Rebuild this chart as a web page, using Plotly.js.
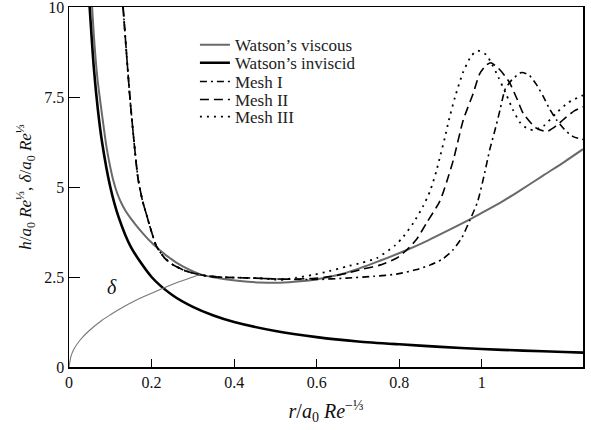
<!DOCTYPE html>
<html>
<head>
<meta charset="utf-8">
<script src="https://cdn.plot.ly/plotly-3.0.1.min.js"></script>
<style>html,body{margin:0;padding:0;background:#fff;}#chart{width:591px;height:430px;}</style>
</head>
<body>
<div id="chart"></div>
<script>
// Watson's viscous solution (grey)
var viscousX = [0.056,0.0615,0.069,0.0755,0.083,0.091,0.1,0.108,0.117,0.127,0.138,0.15,0.165,0.18,0.196,0.212,0.23,0.245,0.26,0.29,0.317,0.36,0.414,0.46,0.51,0.56,0.6,0.672,0.753,0.818,0.87,0.916,0.971,1.0,1.05,1.092,1.15,1.2,1.245];
var viscousY = [10,9,8,7.4,6.75,6.1,5.55,5.15,4.82,4.55,4.32,4.12,3.9,3.7,3.5,3.33,3.15,3.02,2.9,2.71,2.58,2.47,2.39,2.35,2.34,2.38,2.44,2.62,2.95,3.25,3.52,3.78,4.1,4.28,4.6,4.9,5.33,5.7,6.05];
// Watson's inviscid solution (black)
var inviscidX = [0.05,0.06,0.07,0.08,0.1,0.12,0.15,0.2,0.25,0.3,0.35,0.4,0.5,0.6,0.7,0.8,0.9,1.0,1.1,1.2,1.245];
var inviscidY = [10,8.33,7.14,6.25,5.0,4.17,3.33,2.5,2.0,1.67,1.43,1.25,1.0,0.83,0.71,0.63,0.56,0.5,0.455,0.417,0.40];
// boundary layer thickness delta (thin grey)
var deltaX = [0,0.005,0.012,0.027,0.05,0.08,0.1,0.14,0.172,0.2,0.2365,0.27,0.3,0.317];
var deltaY = [0,0.3,0.5,0.75,1.02,1.3,1.45,1.72,1.91,2.05,2.23,2.38,2.5,2.57];
// Mesh I (dash-dot)
var mesh1X = [0.131,0.14,0.148,0.158,0.167,0.178,0.188,0.2,0.212,0.232,0.252,0.28,0.317,0.36,0.414,0.47,0.518,0.6,0.672,0.74,0.793,0.84,0.874,0.905,0.93,0.952,0.971,0.99,1.005,1.019,1.035,1.044,1.056,1.072,1.096,1.115,1.132,1.149,1.165,1.181,1.2,1.221,1.245];
var mesh1Y = [10,8.6,7.42,6.2,5.25,4.62,4.22,3.75,3.35,3.02,2.84,2.68,2.56,2.5,2.48,2.46,2.44,2.43,2.47,2.52,2.58,2.7,2.83,3.0,3.25,3.6,4.08,4.6,5.3,6.03,6.72,7.14,7.7,7.97,8.18,8.1,7.85,7.51,7.15,6.86,6.6,6.4,6.32];
// Mesh II (dashed)
var mesh2X = [0.131,0.14,0.148,0.158,0.167,0.178,0.188,0.2,0.212,0.232,0.252,0.28,0.317,0.36,0.414,0.47,0.518,0.59,0.632,0.672,0.712,0.753,0.793,0.818,0.842,0.866,0.898,0.915,0.931,0.955,0.979,0.995,1.011,1.022,1.04,1.055,1.068,1.085,1.1,1.13,1.157,1.18,1.205,1.225,1.245];
var mesh2Y = [10,8.6,7.42,6.2,5.25,4.62,4.22,3.75,3.35,3.02,2.84,2.68,2.56,2.5,2.48,2.46,2.44,2.46,2.51,2.6,2.72,2.83,3.02,3.25,3.55,4.0,4.6,5.15,5.75,6.86,7.6,8.15,8.39,8.45,8.3,8.1,7.88,7.45,7.05,6.65,6.54,6.7,6.95,7.12,7.23];
// Mesh III (dotted)
var mesh3X = [0.131,0.14,0.148,0.158,0.167,0.178,0.188,0.2,0.212,0.232,0.252,0.28,0.317,0.36,0.414,0.47,0.511,0.55,0.591,0.63,0.672,0.71,0.745,0.79,0.81,0.834,0.857,0.875,0.89,0.9,0.91,0.92,0.935,0.955,0.975,0.99,1.01,1.025,1.04,1.06,1.075,1.092,1.11,1.125,1.15,1.18,1.21,1.245];
var mesh3Y = [10,8.6,7.42,6.2,5.25,4.62,4.22,3.75,3.35,3.02,2.84,2.68,2.56,2.5,2.48,2.46,2.42,2.48,2.56,2.66,2.79,2.9,3.02,3.38,3.62,4.0,4.45,4.9,5.45,5.9,6.35,6.85,7.5,8.2,8.65,8.79,8.68,8.4,8.05,7.55,7.15,6.8,6.62,6.58,6.7,7.05,7.35,7.55];

var xTickVals = [0,0.2,0.4,0.6,0.8,1];
var xTickText = ['0','0.2','0.4','0.6','0.8','1'];
var yTickVals = [0,2.5,5,7.5,10];
var yTickText = ['0','2.5','5','7.5','10'];

var serif = 'Liberation Serif, Times New Roman, serif';

var traces = [
  {x: viscousX, y: viscousY, mode:'lines', name:"Watson’s viscous", legend:'legend',
   line:{color:'#6a6a6a', width:2, shape:'spline', smoothing:0.8}},
  {x: inviscidX, y: inviscidY, mode:'lines', name:"Watson’s inviscid", legend:'legend2',
   line:{color:'#000', width:2.6, shape:'spline', smoothing:0.7}},
  {x: mesh1X, y: mesh1Y, mode:'lines', name:'Mesh I', legend:'legend3',
   line:{color:'#000', width:1.6, dash:'7px,4px,2px,4px', shape:'spline', smoothing:0.6}},
  {x: mesh2X, y: mesh2Y, mode:'lines', name:'Mesh II', legend:'legend4',
   line:{color:'#000', width:1.6, dash:'9px,5px', shape:'spline', smoothing:0.6}},
  {x: mesh3X, y: mesh3Y, mode:'lines', name:'Mesh III', legend:'legend5',
   line:{color:'#000', width:1.8, dash:'2px,5px', shape:'spline', smoothing:0.6}},
  {x: deltaX, y: deltaY, mode:'lines', name:'delta', showlegend:false,
   line:{color:'#777', width:1.1, shape:'spline', smoothing:0.8}}
];

function leg(yv){
  return {x:0.245, y:yv, xanchor:'left', yanchor:'middle', bgcolor:'rgba(0,0,0,0)', borderwidth:0,
          font:{family:serif, size:17, color:'#222'}, itemwidth:30};
}

var layout = {
  width:591, height:430,
  margin:{l:69, r:8, t:7, b:63},
  paper_bgcolor:'#fff', plot_bgcolor:'#fff',
  font:{family:serif, size:16, color:'#111'},
  xaxis:{range:[0,1.245], tickvals:xTickVals, ticktext:xTickText, ticks:'inside', ticklen:8,
         tickcolor:'#000', tickwidth:1, showline:true, linecolor:'#000', linewidth:1.5, mirror:true,
         showgrid:false, zeroline:false, tickfont:{family:serif, size:16, color:'#111'},
         title:{text:'<i>r</i>/<i>a</i><sub>0</sub> <i>Re</i><sup>−⅓</sup>', font:{family:serif, size:20, color:'#111'}, standoff:14}},
  yaxis:{range:[0,10], tickvals:yTickVals, ticktext:yTickText, ticks:'inside', ticklen:11,
         ticklabeloverflow:'allow',
         tickcolor:'#000', tickwidth:1, showline:true, linecolor:'#000', linewidth:1.5, mirror:true,
         showgrid:false, zeroline:false, tickfont:{family:serif, size:16, color:'#111'},
         title:{text:'<i>h</i>/<i>a</i><sub>0</sub> <i>Re</i><sup>⅓</sup>, <i>δ</i>/<i>a</i><sub>0</sub> <i>Re</i><sup>⅓</sup>', font:{family:serif, size:17, color:'#111'}, standoff:8}},
  legend: leg(0.894),
  legend2: leg(0.844),
  legend3: leg(0.792),
  legend4: leg(0.742),
  legend5: leg(0.694),
  annotations:[{x:0.103, y:2.23, xref:'x', yref:'y', text:'<i>δ</i>', showarrow:false,
                font:{family:serif, size:20, color:'#111'}}]
};

Plotly.newPlot('chart', traces, layout, {staticPlot:true, displayModeBar:false});
</script>
</body>
</html>
